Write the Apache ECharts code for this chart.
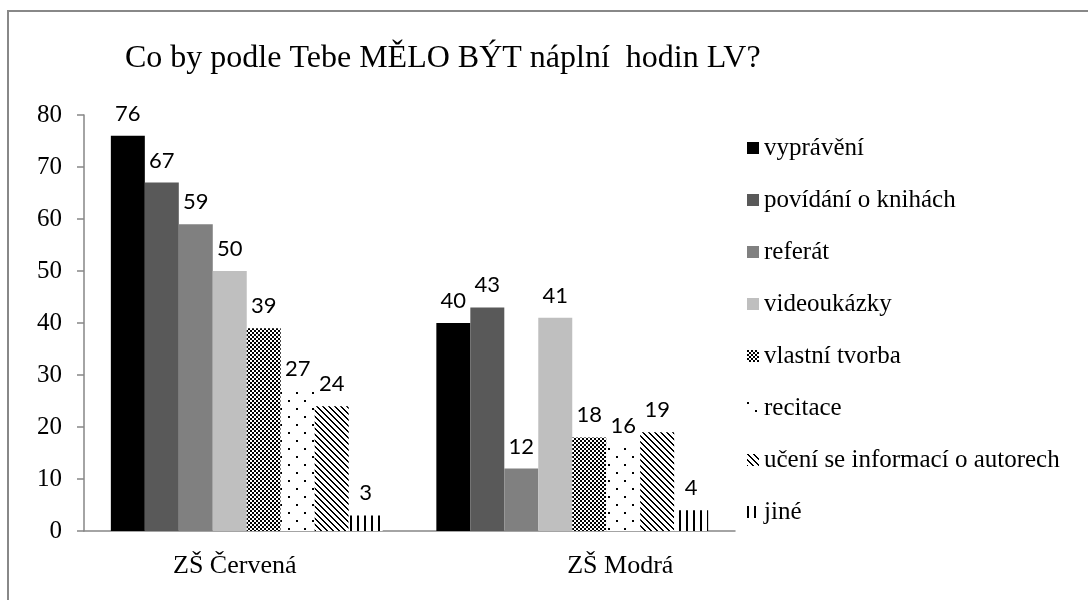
<!DOCTYPE html>
<html>
<head>
<meta charset="utf-8">
<script src="https://cdn.jsdelivr.net/npm/echarts@6/dist/echarts.min.js"></script>
<style>
html, body { margin: 0; padding: 0; background: #fff; }
#chart { width: 1088px; height: 600px; }
</style>
</head>
<body>
<div id="chart"></div>
<script>
//data
let categories = ["ZŠ Červená", "ZŠ Modrá"];
let seriesNames = ["vyprávění", "povídání o knihách", "referát", "videoukázky",
    "vlastní tvorba", "recitace", "učení se informací o autorech", "jiné"];
let vypraveni = [76, 40];
let povidani = [67, 43];
let referat = [59, 12];
let videoukazky = [50, 41];
let tvorba = [39, 18];
let recitace = [27, 16];
let autori = [24, 19];
let jine = [3, 4];
let yTicks = [0, 10, 20, 30, 40, 50, 60, 70, 80];

//patterns
function makeTile(w, h, draw){
    let c = document.createElement("canvas");
    c.width = w;
    c.height = h;
    let ctx = c.getContext("2d");
    ctx.fillStyle = "#fff";
    ctx.fillRect(0, 0, w, h);
    ctx.fillStyle = "#000";
    draw(ctx);
    return { image: c, repeat: "repeat" };
}
let checker = makeTile(4, 4, (ctx)=>{
    ctx.fillRect(0, 0, 2, 2);
    ctx.fillRect(2, 2, 2, 2);
});
let dots = makeTile(16, 16, (ctx)=>{
    ctx.fillRect(0, 0, 2, 2);
    ctx.fillRect(8, 8, 2, 2);
});
let diagonal = makeTile(6, 6, (ctx)=>{
    for(let i = 0; i < 6; i++){
        ctx.fillRect(i, i, 2, 1);
        if(i == 5) ctx.fillRect(0, 5, 1, 1);
    }
});
let vertical = makeTile(7, 7, (ctx)=>{
    ctx.fillRect(0, 0, 2, 7);
});

let colors = ["#000000", "#595959", "#808080", "#bfbfbf", checker, dots, diagonal, vertical];
let values = [vypraveni, povidani, referat, videoukazky, tvorba, recitace, autori, jine];

let series = [];
for(let i = 0; i < seriesNames.length; i++){
    series.push({
        type: "bar",
        name: seriesNames[i],
        data: values[i],
        barGap: "0%",
        barCategoryGap: "16.5%",
        itemStyle: { color: colors[i] },
        label: {
            show: true,
            position: "top",
            distance: 11,
            color: "#000",
            fontFamily: "Lato",
            fontSize: 22
        }
    });
}

let chart = echarts.init(document.getElementById("chart"));
let opts = {
    animation: false,
    title: {
        text: "Co by podle Tebe MĚLO BÝT náplní  hodin LV?",
        left: 120,
        top: 38,
        textStyle: {
            fontFamily: "Liberation Serif",
            fontSize: 32,
            fontWeight: "normal",
            color: "#000"
        }
    },
    grid: {
        left: 84,
        right: 353,
        top: 115,
        bottom: 69
    },
    legend: {
        orient: "vertical",
        left: 742,
        top: 130,
        icon: "rect",
        itemWidth: 12,
        itemHeight: 12,
        itemGap: 26,
        data: seriesNames,
        textStyle: {
            fontFamily: "Liberation Serif",
            fontSize: 25,
            lineHeight: 26,
            color: "#000",
            padding: [0, 0, 0, 0]
        }
    },
    xAxis: {
        type: "category",
        data: categories,
        axisLine: { lineStyle: { color: "#868686", width: 1.5 } },
        axisTick: { show: false },
        axisLabel: {
            margin: 22,
            formatter: (v)=> v == categories[0] ? "{a|" + v + "}" : "{b|" + v + "}",
            rich: {
                a: { fontFamily: "Liberation Serif", fontSize: 26, color: "#000", padding: [0, 24, 0, 0] },
                b: { fontFamily: "Liberation Serif", fontSize: 26, color: "#000", padding: [0, 0, 0, 96] }
            }
        }
    },
    yAxis: {
        type: "value",
        min: yTicks[0],
        max: yTicks[yTicks.length - 1],
        interval: yTicks[1] - yTicks[0],
        splitLine: { show: false },
        axisLine: { show: true, lineStyle: { color: "#868686", width: 1.5 } },
        axisTick: { show: true, length: 7, lineStyle: { color: "#868686", width: 1.5 } },
        axisLabel: {
            margin: 22,
            fontFamily: "Liberation Serif",
            fontSize: 25,
            color: "#000"
        }
    },
    graphic: [{
        type: "rect",
        shape: { x: 8, y: 11, width: 1100, height: 620 },
        style: { fill: null, stroke: "#888", lineWidth: 2 },
        silent: true
    }],
    series: series
};
chart.setOption(opts);
</script>
</body>
</html>
